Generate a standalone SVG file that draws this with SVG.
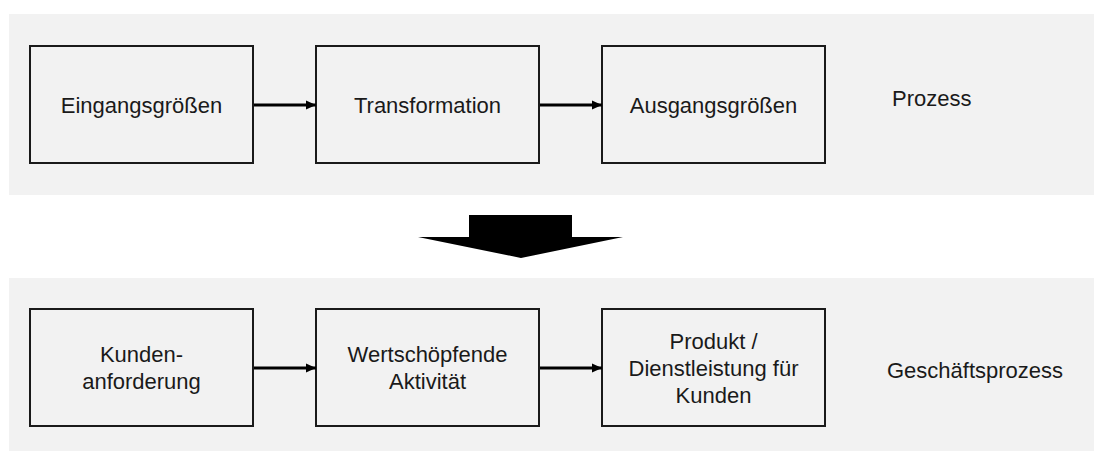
<svg xmlns="http://www.w3.org/2000/svg" width="1094" height="451" viewBox="0 0 1094 451">
  <defs>
    <style>
      .panel { fill: #f2f2f2; }
      .box { fill: #f2f2f2; stroke: #1a1a1a; stroke-width: 2; }
      .lbl { font-family: "Liberation Sans", Arial, sans-serif; font-size: 22px; fill: #1a1a1a; text-anchor: middle; }
      .side { font-family: "Liberation Sans", Arial, sans-serif; font-size: 22px; fill: #1a1a1a; }
      .conn { stroke: #000; stroke-width: 3; fill: none; marker-end: url(#head); }
    </style>
    <marker id="head" markerWidth="10" markerHeight="10" refX="10" refY="5" orient="auto" markerUnits="userSpaceOnUse">
      <path d="M0,0.5 L10,5 L0,9.5 Z" fill="#000"/>
    </marker>
  </defs>

  <!-- background bands -->
  <rect class="panel" x="9" y="14" width="1085" height="181"/>
  <rect class="panel" x="9" y="278" width="1085" height="173"/>

  <!-- upper row: generic process -->
  <g id="eingang">
    <rect class="box" x="30" y="46" width="223" height="117"/>
    <text class="lbl" x="141.5" y="113">Eingangsgrößen</text>
  </g>
  <g id="transformation">
    <rect class="box" x="316" y="46" width="223" height="117"/>
    <text class="lbl" x="427.5" y="113">Transformation</text>
  </g>
  <g id="ausgang">
    <rect class="box" x="602" y="46" width="223" height="117"/>
    <text class="lbl" x="713.5" y="113">Ausgangsgrößen</text>
  </g>
  <g id="label-prozess">
    <text class="side" x="892" y="106">Prozess</text>
  </g>

  <!-- lower row: business process -->
  <g id="kundenanforderung">
    <rect class="box" x="30" y="309" width="223" height="117"/>
    <text class="lbl" x="141.5" y="362">Kunden-</text>
    <text class="lbl" x="141.5" y="389">anforderung</text>
  </g>
  <g id="wertschoepfung">
    <rect class="box" x="316" y="309" width="223" height="117"/>
    <text class="lbl" x="427.5" y="362">Wertschöpfende</text>
    <text class="lbl" x="427.5" y="389">Aktivität</text>
  </g>
  <g id="produkt">
    <rect class="box" x="602" y="309" width="223" height="117"/>
    <text class="lbl" x="713.5" y="349">Produkt /</text>
    <text class="lbl" x="713.5" y="376">Dienstleistung für</text>
    <text class="lbl" x="713.5" y="403">Kunden</text>
  </g>
  <g id="label-geschaeftsprozess">
    <text class="side" x="887" y="378">Geschäftsprozess</text>
  </g>

  <!-- connectors -->
  <g id="connectors">
    <line class="conn" x1="254" y1="105" x2="316" y2="105"/>
    <line class="conn" x1="540" y1="105" x2="602" y2="105"/>
    <line class="conn" x1="254" y1="368" x2="316" y2="368"/>
    <line class="conn" x1="540" y1="368" x2="602" y2="368"/>
    <!-- block arrow between the two rows -->
    <path d="M469,215 L572,215 L572,237 L623,237 L521,258 L418,237 L469,237 Z" fill="#000"/>
  </g>
</svg>
